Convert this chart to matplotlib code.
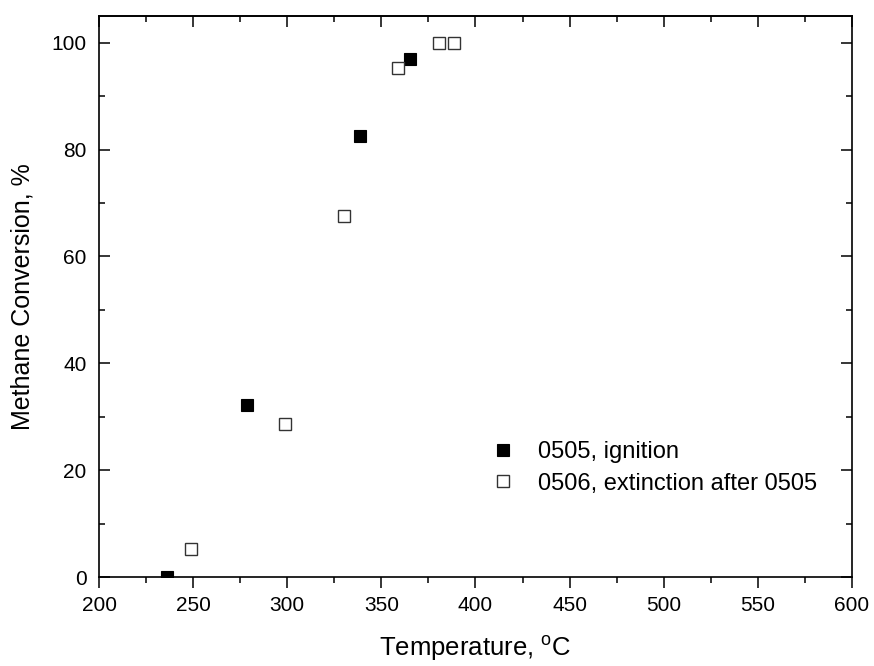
import matplotlib
matplotlib.use("Agg")
import matplotlib.pyplot as plt
from matplotlib.ticker import MultipleLocator

plt.rcParams['font.family'] = ['Liberation Sans', 'DejaVu Sans']

# methane conversion vs. temperature
ignition_temp = [236, 278.4, 338.5, 365.3]
ignition_conv = [0, 32.2, 82.5, 96.9]
extinction_temp = [248.6, 298.6, 330, 358.6, 380.7, 388.5]
extinction_conv = [5.2, 28.7, 67.6, 95.3, 100, 100]

fig = plt.figure(figsize=(8.74, 6.66), dpi=100)
ax = fig.add_axes([0.1133, 0.1336, 0.8615, 0.8424])

ax.plot(ignition_temp, ignition_conv, 's', color='black', markersize=9,
        markeredgewidth=0.8, label='0505, ignition')
ax.plot(extinction_temp, extinction_conv, 's', markerfacecolor='white',
        markeredgecolor='#333333', markersize=9, markeredgewidth=1.0,
        label='0506, extinction after 0505')

ax.set_xlim(200, 600)
ax.set_ylim(0, 105)
ax.xaxis.set_major_locator(MultipleLocator(50))
ax.xaxis.set_minor_locator(MultipleLocator(25))
ax.yaxis.set_major_locator(MultipleLocator(20))
ax.yaxis.set_minor_locator(MultipleLocator(10))

for s in ax.spines.values():
    s.set_linewidth(1.2)

ax.tick_params(axis='y', which='both', direction='in', left=True, right=True,
               labelsize=15, pad=9, width=1.1)
ax.tick_params(axis='x', which='both', direction='out', top=False,
               labelsize=15, pad=6, width=1.1)
ax.tick_params(which='major', length=8)
ax.tick_params(which='minor', length=4.5)

# top axis carries inward ticks only
top = ax.secondary_xaxis('top')
top.xaxis.set_major_locator(MultipleLocator(50))
top.xaxis.set_minor_locator(MultipleLocator(25))
top.tick_params(which='both', direction='in', labeltop=False, width=1.1)
top.tick_params(which='major', length=8)
top.tick_params(which='minor', length=4.5)
top.spines['top'].set_linewidth(1.2)

ax.set_xlabel('Temperature, $^\\mathregular{o}$C', fontsize=18.5, labelpad=13)
ax.set_ylabel('Methane Conversion, %', fontsize=18, labelpad=12)

ax.legend(loc='center left', bbox_to_anchor=(0.489, 0.1944),
          bbox_transform=ax.transAxes, frameon=False, fontsize=17,
          borderpad=0, handlelength=2, handletextpad=0.48, labelspacing=0.4)

fig.savefig('out.png', dpi=100)
